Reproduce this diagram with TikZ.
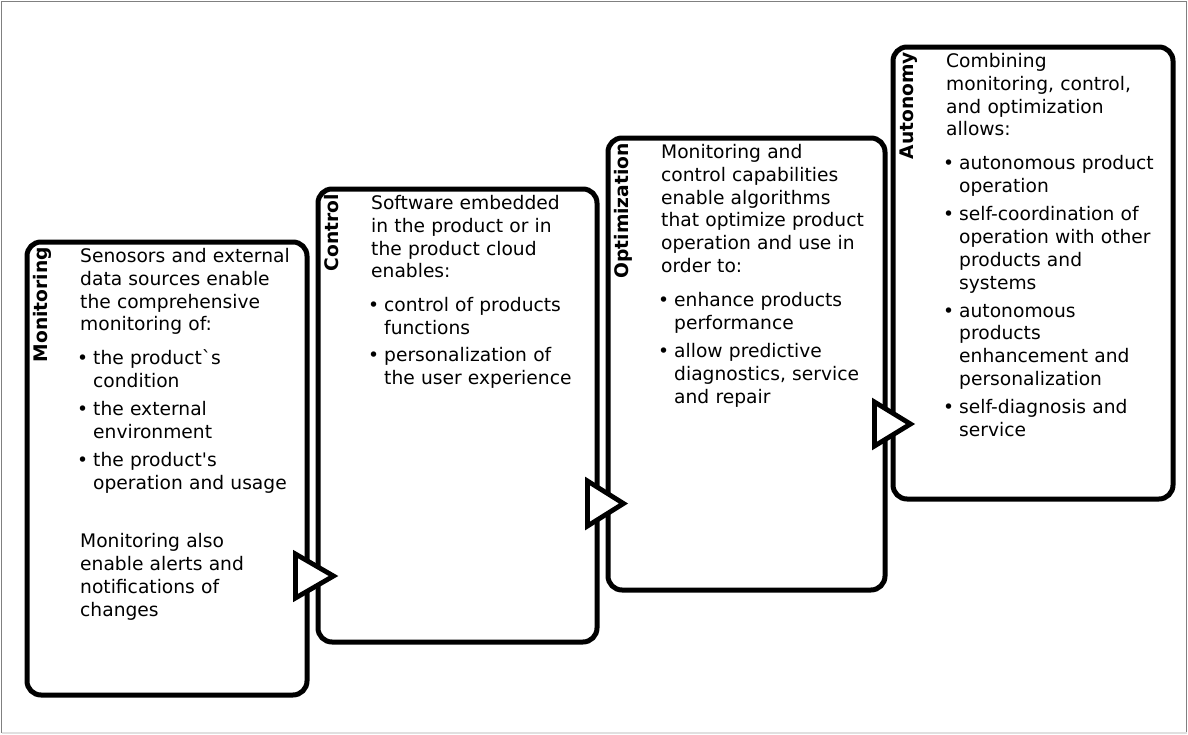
\documentclass[tikz,border=0pt]{standalone}
\usepackage{fontspec}
\newfontfamily\bodyfont{DejaVu Sans}
\newcommand{\bitem}[2][5pt]{\par\vspace{#1}\hangindent=13pt\hangafter=1\noindent\makebox[13pt][l]{\hspace{-3pt}•}#2\par}
\begin{document}
\begin{tikzpicture}[x=1pt,y=-1pt,
  stepbox/.style={draw=black, line width=5pt, rounded corners=14pt, fill=white, inner sep=0pt, anchor=north west},
  steplabel/.style={font=\bodyfont\bfseries\fontsize{18.67}{22}\selectfont, rotate=90, anchor=base east, inner sep=0pt},
  steptext/.style={font=\bodyfont\fontsize{18.67}{22.9}\selectfont, text width=260pt, align=left, anchor=north west, inner sep=0pt},
  arrowtri/.style={draw=black, line width=4.8pt, fill=white, line join=miter}]
\useasboundingbox (0,0) rectangle (1188,734);
% frame
\draw[black!50, line width=1.2pt] (1.5,733) -- (1.5,1.5) -- (1186.5,1.5) -- (1186.5,733);
\draw[black!12, line width=1.2pt] (1.5,733) -- (1186.5,733);
% boxes
\node[stepbox, minimum width=280pt, minimum height=453pt] (b1) at (24.5,239.5) {};
\node[stepbox, minimum width=279pt, minimum height=453pt] (b2) at (315.5,186.5) {};
\node[stepbox, minimum width=277pt, minimum height=452pt] (b3) at (605.5,135.5) {};
\node[stepbox, minimum width=280pt, minimum height=452pt] (b4) at (890.5,44.5) {};
% labels
\node[steplabel] (l1) at (47.5,247) {Monitoring};
\node[steplabel] (l2) at (338.5,194) {Control};
\node[steplabel] (l3) at (628.5,143) {Optimization};
\node[steplabel] (l4) at (913.5,52) {Autonomy};
% texts
\node[steptext] (t1) at (80,246) {\rule{0pt}{16pt}Senosors and external\\data sources enable\\the comprehensive\\monitoring of:%
\bitem[10.8pt]{the product`s\newline condition}%
\bitem{the external\newline environment}%
\bitem{the product's\newline operation and usage}%
\par\vspace{35.8pt}\noindent Monitoring also\\enable alerts and\\notifications of\\changes};
\node[steptext] (t2) at (371,193) {\rule{0pt}{16pt}Software embedded\\in the product or in\\the product cloud\\enables:%
\bitem[10.8pt]{control of products\newline functions}%
\bitem[4pt]{personalization of\newline the user experience}};
\node[steptext] (t3) at (661,142) {\rule{0pt}{16pt}Monitoring and\\control capabilities\\enable algorithms\\that optimize product\\operation and use in\\order to:%
\bitem[10.8pt]{enhance products\newline performance}%
\bitem{allow predictive\newline diagnostics, service\newline and repair}};
\node[steptext] (t4) at (946,51) {\rule{0pt}{16pt}Combining\\monitoring, control,\\and optimization\\allows:%
\bitem[10.8pt]{autonomous product\newline operation}%
\bitem{self-coordination of\newline operation with other\newline products and\newline systems}%
\bitem{autonomous\newline products\newline enhancement and\newline personalization}%
\bitem{self-diagnosis and\newline service}};
% arrows between steps
\draw[arrowtri] (295.5,554) -- (333.5,576) -- (295.5,598) -- cycle;
\draw[arrowtri] (587.5,481) -- (623.5,503.5) -- (587.5,526) -- cycle;
\draw[arrowtri] (874.5,402) -- (910.5,424) -- (874.5,446) -- cycle;
\end{tikzpicture}
\end{document}
